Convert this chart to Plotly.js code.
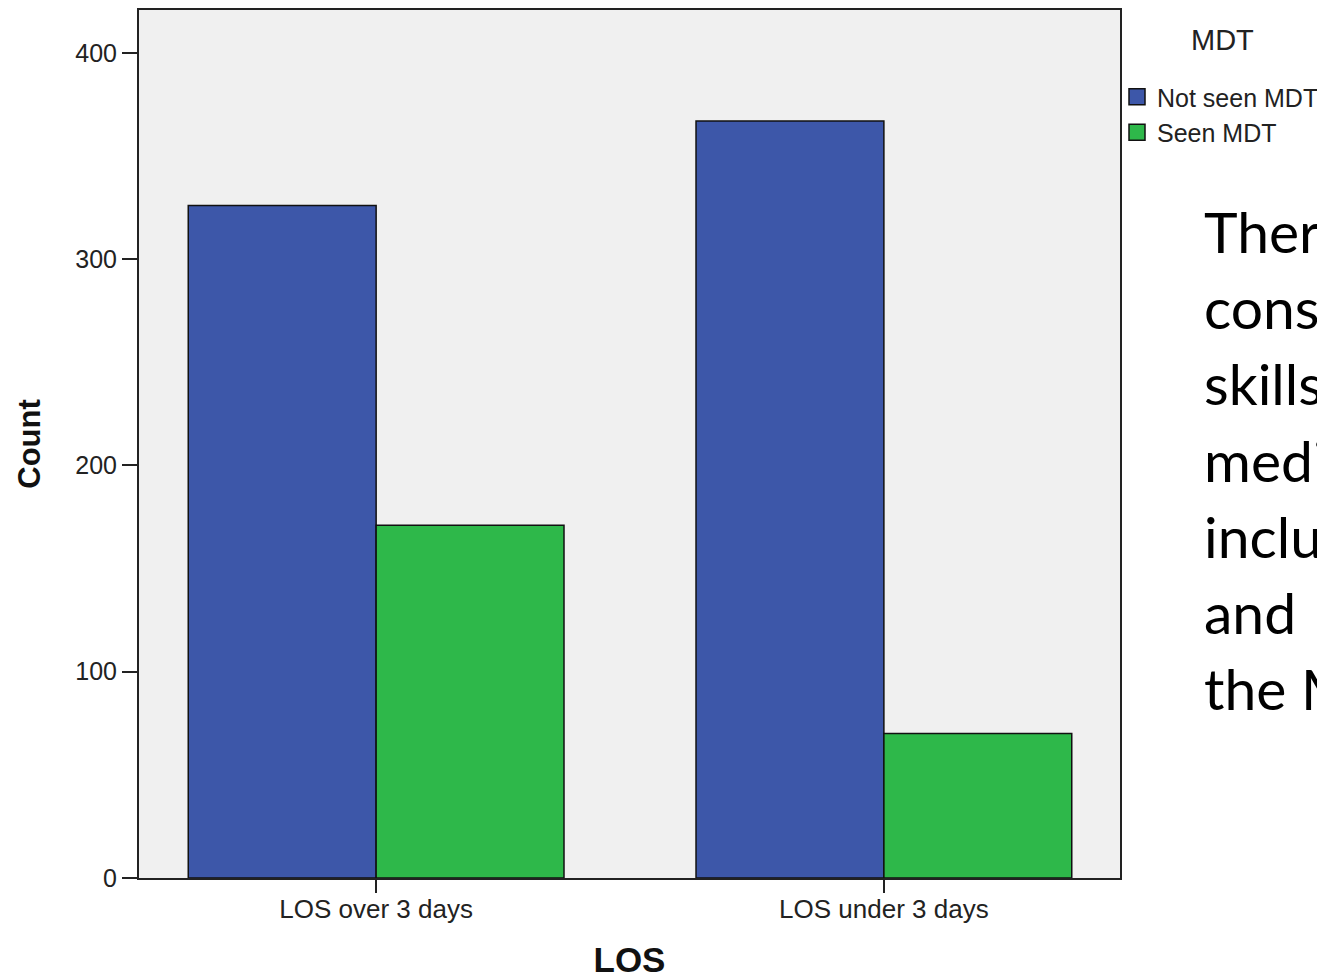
<!DOCTYPE html>
<html>
<head>
<meta charset="utf-8">
<script src="https://cdn.plot.ly/plotly-3.0.1.min.js"></script>
<style>
  html, body { margin: 0; padding: 0; overflow: hidden; background: #ffffff; }
  #chart { width: 1317px; height: 979px; }
</style>
</head>
<body>
<div id="chart"></div>
<script>
// ---- data ----
const categories = ["LOS over 3 days", "LOS under 3 days"];
const notSeenMDT = [326, 367];
const seenMDT = [171, 70];
const seriesNames = ["Not seen MDT", "Seen MDT"];
const seriesColors = ["#3d57a9", "#2eb84a"];
const yTicks = [0, 100, 200, 300, 400];
const legendTitle = "MDT";
const sideTextLines = ["There was a", "considerable", "skills", "medical", "including", "and", "the MDT"];

// ---- layout constants ----
const W = 1317, H = 979;
const mL = 139, mR = 197, mT = 10, mB = 101;
const plotW = W - mL - mR, plotH = H - mT - mB;
const font = "Liberation Sans, Arial, sans-serif";
const px2x = p => (p - mL) / plotW;
const px2y = p => 1 - (p - mT) / plotH;

const barLine = { color: "#111111", width: 1.5 };
const traces = [
  {
    type: "bar", name: seriesNames[0], x: categories, y: notSeenMDT,
    marker: { color: seriesColors[0], line: barLine }, showlegend: false
  },
  {
    type: "bar", name: seriesNames[1], x: categories, y: seenMDT,
    marker: { color: seriesColors[1], line: barLine }, showlegend: false
  },
  // legend proxies (larger square swatches, no data)
  {
    type: "scatter", mode: "markers", name: seriesNames[0], x: [null], y: [null],
    marker: { symbol: "square", size: 16, color: seriesColors[0], line: { color: "#111111", width: 1.5 } },
    showlegend: true, hoverinfo: "skip"
  },
  {
    type: "scatter", mode: "markers", name: seriesNames[1], x: [null], y: [null],
    marker: { symbol: "square", size: 16, color: seriesColors[1], line: { color: "#111111", width: 1.5 } },
    showlegend: true, hoverinfo: "skip"
  }
];

// side text annotations (slide text cropped at the right edge)
const annotations = sideTextLines.map((t, i) => ({
  xref: "paper", yref: "paper",
  x: px2x(1202), y: px2y(231 + i * 76.2),
  xanchor: "left", yanchor: "middle",
  text: t, showarrow: false, align: "left",
  font: { family: "Lato, Open Sans, sans-serif", size: 57, color: "#000000" }
}));
annotations.push({
  xref: "paper", yref: "paper",
  x: px2x(1222), y: px2y(40),
  xanchor: "center", yanchor: "middle",
  text: legendTitle, showarrow: false,
  font: { family: font, size: 29, color: "#222222" }
});

const layout = {
  width: W, height: H,
  margin: { l: mL, r: mR, t: mT, b: mB, pad: 0, autoexpand: false },
  paper_bgcolor: "#ffffff",
  plot_bgcolor: "#f0f0f0",
  barmode: "group",
  bargap: 0.26,
  bargroupgap: 0,
  font: { family: font, size: 24, color: "#222222" },
  xaxis: {
    type: "category",
    range: [-0.467, 1.465],
    showline: true, linecolor: "#222222", linewidth: 2, mirror: true,
    ticks: "outside", ticklen: 13, tickwidth: 2, tickcolor: "#222222",
    ticklabelstandoff: -6,
    showgrid: false, zeroline: false,
    tickfont: { family: font, size: 26, color: "#222222" },
    title: { text: "<b>LOS</b>", font: { family: font, size: 35, color: "#111111" }, standoff: 26 },
    automargin: false,
    fixedrange: true
  },
  yaxis: {
    range: [0, 420.8],
    tickvals: yTicks,
    showline: true, linecolor: "#222222", linewidth: 2, mirror: true,
    ticks: "outside", ticklen: 15, tickwidth: 2, tickcolor: "#222222",
    showgrid: false, zeroline: false,
    tickfont: { family: font, size: 25, color: "#222222" },
    title: { text: "<b>Count</b>", font: { family: font, size: 31, color: "#111111" }, standoff: 25 },
    automargin: false,
    fixedrange: true
  },
  showlegend: true,
  legend: {
    x: px2x(1117), xanchor: "left",
    y: px2y(74), yanchor: "top",
    bgcolor: "rgba(0,0,0,0)",
    borderwidth: 0,
    tracegroupgap: 0,
    itemclick: false, itemdoubleclick: false,
    font: { family: font, size: 25, color: "#222222" }
  },
  annotations: annotations
};

Plotly.newPlot("chart", traces, layout, { displayModeBar: false, staticPlot: true });
</script>
</body>
</html>
